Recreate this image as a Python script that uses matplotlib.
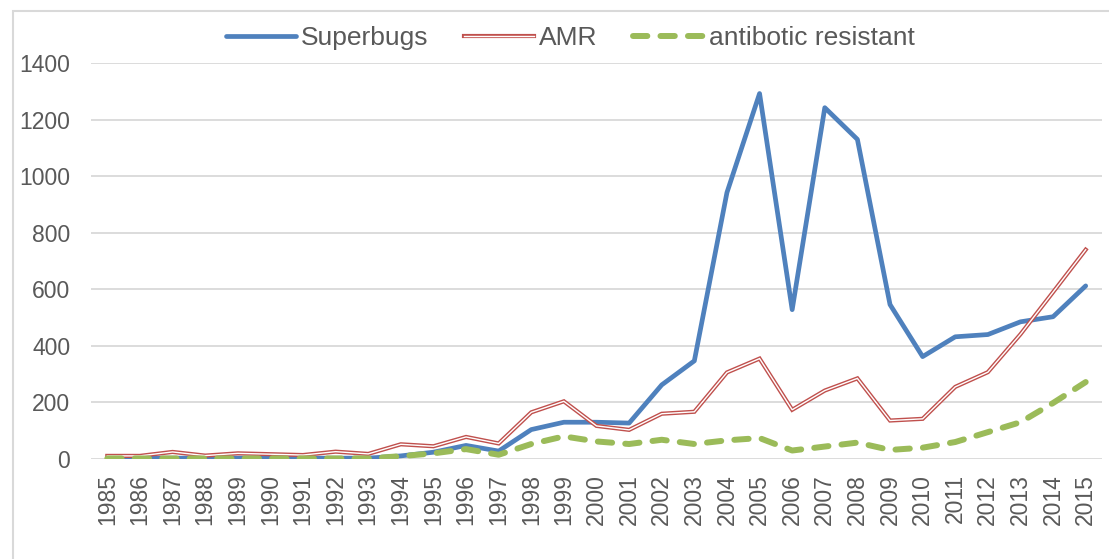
import matplotlib
matplotlib.use("Agg")
import matplotlib.pyplot as plt
from matplotlib.patches import Rectangle
from matplotlib.lines import Line2D
from matplotlib.legend_handler import HandlerBase
import numpy as np

years = [str(y) for y in range(1985, 2016)]
superbugs = [3, 3, 3, 3, 3, 3, 3, 3, 3, 11, 24, 48, 28, 104, 130, 130, 127, 262, 347,
             942, 1292, 528, 1242, 1130, 546, 362, 432, 440, 485, 503, 612]
amr = [11, 11, 25, 12, 20, 17, 14, 26, 18, 52, 45, 78, 55, 165, 204, 117, 103, 160, 167,
       306, 355, 174, 242, 285, 136, 142, 255, 307, 441, 590, 740]
antibiotic = [2, 2, 2, 2, 2, 2, 2, 2, 2, 10, 20, 35, 15, 53, 80, 62, 53, 68, 53,
              66, 74, 30, 44, 58, 32, 40, 60, 95, 130, 198, 272]
yticks = [0, 200, 400, 600, 800, 1000, 1200, 1400]

plt.rcParams['font.family'] = ['Liberation Sans', 'DejaVu Sans']
TXT = '#595959'
GRID = '#D9D9D9'

W, H = 1109, 559
fig = plt.figure(figsize=(W / 100, H / 100), dpi=100)
ax = fig.add_axes([91 / W, 1 - 459 / H, (1102 - 91) / W, (459 - 63) / H])

x = np.arange(len(years))
l1, = ax.plot(x, superbugs, color='#4F81BD', lw=3.4, solid_joinstyle='round',
              solid_capstyle='round', zorder=3, label='Superbugs')
ax.plot(x, amr, color='#C0504D', lw=3.0, solid_joinstyle='miter', zorder=4)
ax.plot(x, amr, color='white', lw=1.0, solid_joinstyle='miter', zorder=4.1)
l3, = ax.plot(x, antibiotic, color='#9BBB59', lw=4.3, dashes=(2.4, 2.2),
              dash_capstyle='round', zorder=5, label='antibotic resistant')

ax.set_xlim(-0.5, len(years) - 0.5)
ax.set_ylim(0, 1400)
ax.set_yticks(yticks)
ax.set_yticklabels([str(v) for v in yticks])
ax.set_xticks(x)
ax.set_xticklabels(years, rotation=90)
ax.grid(axis='y', color=GRID, lw=1.3)
ax.set_axisbelow(True)
for s in ax.spines.values():
    s.set_visible(False)
ax.tick_params(axis='both', length=0, colors=TXT, labelsize=16.5)
ax.tick_params(axis='y', pad=15)
ax.tick_params(axis='x', pad=11)


class DoubleLine(HandlerBase):
    def create_artists(self, legend, orig, xd, yd, w, h, fs, trans):
        a = Line2D([xd, xd + w], [yd + h / 2] * 2, color='#C0504D', lw=3.0)
        b = Line2D([xd, xd + w], [yd + h / 2] * 2, color='white', lw=1.0)
        a.set_transform(trans)
        b.set_transform(trans)
        return [a, b]


amr_handle = Line2D([], [], color='#C0504D', label='AMR')
leg = fig.legend([l1, amr_handle, l3], ['Superbugs', 'AMR', 'antibotic resistant'],
                 handler_map={amr_handle: DoubleLine()},
                 loc='center', bbox_to_anchor=(570 / W, 1 - 38 / H), ncol=3,
                 frameon=False, fontsize=19, handlelength=2.65, handletextpad=0.2,
                 columnspacing=1.35, labelcolor=TXT)

fig.patches.append(Rectangle((13 / W, -0.5), 2, 1.5 - 11 / H, transform=fig.transFigure,
                             fill=False, edgecolor=GRID, lw=1.5))

fig.savefig('out.png', dpi=100)
